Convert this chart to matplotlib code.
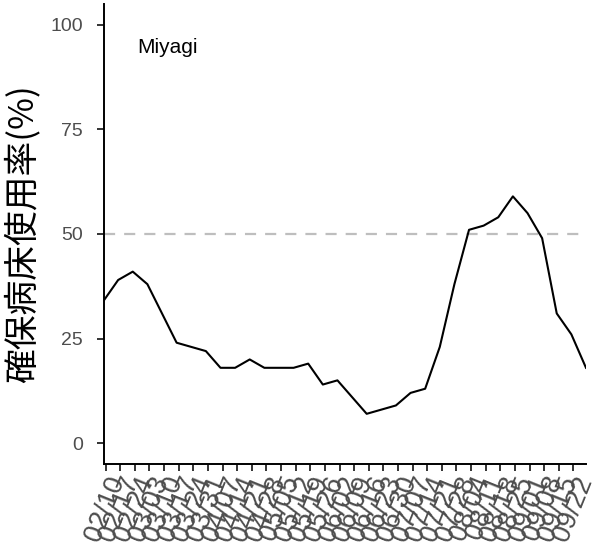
import matplotlib
matplotlib.use("Agg")
import matplotlib.pyplot as plt
import pandas as pd

plt.rcParams['font.family'] = ['Liberation Sans', 'Noto Sans CJK JP', 'DejaVu Sans']
plt.rcParams['lines.scale_dashes'] = False

# weekly bed occupancy, Miyagi
dates = pd.date_range('2022-02-09', periods=34, freq='7D')
occupancy = [34, 39, 41, 38, 31, 24, 23, 22, 18, 18, 20, 18, 18, 18, 19, 14, 15,
             11, 7, 8, 9, 12, 13, 23, 38, 51, 52, 54, 59, 55, 49, 31, 26, 18]
tick_dates = pd.date_range('2022-02-10', '2022-09-22', freq='7D')
tick_labels = [d.strftime('%m/%d') for d in tick_dates]
y_ticks = [0, 25, 50, 75, 100]
threshold = 50
pref = 'Miyagi'

fig = plt.figure(figsize=(5.96, 5.48), dpi=100)
ax = fig.add_axes([0.1737, 0.1533, 0.8095, 0.8394])

ax.axhline(threshold, color='#BEBEBE', lw=1.6, dashes=(8, 6.5), zorder=1)
ax.plot(dates, occupancy, color='black', lw=1.5, zorder=2)

ax.set_xlim(dates[0], dates[-1])
ax.set_ylim(-5, 105)
ax.set_yticks(y_ticks)
ax.set_xticks(tick_dates)
ax.set_xticklabels(tick_labels, rotation=68, ha='right', va='top',
                   rotation_mode='anchor', fontsize=19.5, color='#4D4D4D')
ax.tick_params(axis='y', labelsize=14, labelcolor='#4D4D4D', length=5,
               width=1.4, color='#333333', pad=10)
ax.tick_params(axis='x', length=5, width=1.4, color='#333333', pad=1)

for side in ['top', 'right']:
    ax.spines[side].set_visible(False)
for side in ['left', 'bottom']:
    ax.spines[side].set_linewidth(1.4)
    ax.spines[side].set_color('black')

ax.set_ylabel('確保病床使用率(%)', fontsize=25, family=['Noto Sans CJK JP', 'DejaVu Sans'])
ax.yaxis.set_label_coords(-0.130, 0.5)
ax.text(0.069, 0.905, pref, transform=ax.transAxes, fontsize=15, color='black',
        ha='left', va='center')

fig.savefig('out.png', dpi=100)
